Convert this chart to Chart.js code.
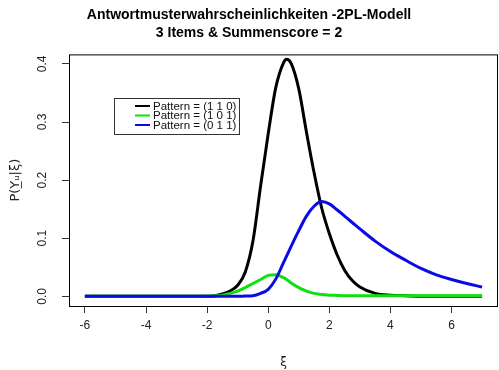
<!DOCTYPE html>
<html>
<head>
<meta charset="utf-8">
<script src="https://cdn.jsdelivr.net/npm/chart.js@4"></script>
<style>
  body { margin: 0; background: #fff; }
  #wrap { width: 499px; height: 370px; }
</style>
</head>
<body>
<div id="wrap"><canvas id="chart" width="499" height="370"></canvas></div>
<script>
// xi grid
const xi = [-6, -5, -4, -3, -2.5, -2, -1.75, -1.5, -1.25, -1, -0.75, -0.5, -0.25, 0, 0.25, 0.5, 0.6, 0.75,
    1, 1.25, 1.5, 1.75, 2, 2.25, 2.5, 2.75, 3, 3.5, 4, 4.5, 5, 5.5, 6, 6.5, 7];

// Pattern = (1 1 0)
const pattern110 = [0, 0, 0, 0, 0, 0, 0.001, 0.004, 0.009, 0.019, 0.042, 0.095, 0.19, 0.28, 0.36, 0.402, 0.408, 0.401,
    0.357, 0.283, 0.213, 0.152, 0.108, 0.072, 0.045, 0.027, 0.016, 0.005, 0.002, 0.001, 0, 0, 0, 0, 0];

// Pattern = (1 0 1)
const pattern101 = [0, 0, 0, 0, 0, 0.0005, 0.001, 0.002, 0.005, 0.009, 0.015, 0.022, 0.029, 0.036, 0.037, 0.032, 0.029, 0.023,
    0.015, 0.009, 0.005, 0.003, 0.002, 0.0015, 0.001, 0.001, 0.001, 0.001, 0.001, 0.001, 0.001, 0.001, 0.001, 0.001, 0.001];

// Pattern = (0 1 1)
const pattern011 = [0, 0, 0, 0, 0, 0, 0, 0, 0, 0, 0.0005, 0.001, 0.005, 0.012, 0.030, 0.058, 0.069, 0.086,
    0.113, 0.138, 0.155, 0.163, 0.159, 0.149, 0.138, 0.127, 0.116, 0.095, 0.077, 0.062, 0.048, 0.037, 0.029, 0.022, 0.016];

const seriesLabels = ['Pattern = (1 1 0)', 'Pattern = (1 0 1)', 'Pattern = (0 1 1)'];
const xTicks = [-6, -4, -2, 0, 2, 4, 6];
const yTicks = [0, 0.1, 0.2, 0.3, 0.4];

function toPoints(ys) {
    return xi.map((x, i) => ({ x: x, y: ys[i] }));
}

// box around the plot region + legend inside it
const rBoxPlugin = {
    id: 'rBox',
    afterDraw(chart) {
        const ctx = chart.ctx;
        const a = chart.chartArea;
        ctx.save();
        ctx.strokeStyle = '#000';
        ctx.lineWidth = 1;
        ctx.strokeRect(a.left + 0.5, a.top + 0.5, a.right - a.left - 1, a.bottom - a.top);

        // legend box
        const bx = 114, by = 98, bw = 125, bh = 36;
        ctx.fillStyle = '#fff';
        ctx.fillRect(bx, by, bw, bh);
        ctx.strokeStyle = '#333';
        ctx.strokeRect(bx + 0.5, by + 0.5, bw, bh);
        ctx.font = '11.5px "Liberation Sans", Arial, sans-serif';
        ctx.textBaseline = 'middle';
        chart.data.datasets.forEach((ds, i) => {
            const y = 106 + i * 9.5;
            ctx.strokeStyle = ds.borderColor;
            ctx.lineWidth = 2;
            ctx.beginPath();
            ctx.moveTo(135, y);
            ctx.lineTo(150, y);
            ctx.stroke();
            ctx.fillStyle = '#111';
            ctx.fillText(ds.label, 153, y + 0.5);
        });
        ctx.restore();
    }
};

const ctx = document.getElementById('chart').getContext('2d');
new Chart(ctx, {
    type: 'line',
    data: {
        datasets: [
            { label: seriesLabels[0], data: toPoints(pattern110), borderColor: '#000000', order: 2 },
            { label: seriesLabels[1], data: toPoints(pattern101), borderColor: '#10e010', order: 1 },
            { label: seriesLabels[2], data: toPoints(pattern011), borderColor: '#0a0ae6', order: 0 }
        ]
    },
    options: {
        responsive: false,
        animation: false,
        layout: { padding: { left: 0, right: 1, top: 0, bottom: 0 } },
        elements: {
            point: { radius: 0 },
            line: { borderWidth: 3, cubicInterpolationMode: 'monotone', fill: false }
        },
        plugins: {
            legend: { display: false },
            tooltip: { enabled: false },
            title: {
                display: true,
                text: ['Antwortmusterwahrscheinlichkeiten -2PL-Modell', '3 Items & Summenscore = 2'],
                color: '#000',
                font: { family: '"Liberation Sans", Arial, sans-serif', size: 14, weight: 'bold', lineHeight: 1.3 },
                padding: { top: 6, bottom: 12 }
            }
        },
        scales: {
            x: {
                type: 'linear',
                min: -6.52,
                max: 7.52,
                afterBuildTicks: (scale) => { scale.ticks = xTicks.map(v => ({ value: v })); },
                afterFit: (scale) => { scale.height = 64; },
                grid: { drawOnChartArea: false, drawTicks: true, tickLength: 7, color: '#333' },
                border: { display: false },
                ticks: {
                    color: '#222',
                    padding: 5,
                    maxRotation: 0,
                    font: { family: '"Liberation Sans", Arial, sans-serif', size: 12 }
                },
                title: {
                    display: true,
                    text: 'ξ',
                    color: '#222',
                    font: { family: '"DejaVu Sans", sans-serif', size: 12 },
                    padding: { top: 0, bottom: 0 }
                }
            },
            y: {
                min: -0.0167,
                max: 0.4164,
                afterBuildTicks: (scale) => { scale.ticks = yTicks.map(v => ({ value: v })); },
                afterFit: (scale) => { scale.width = 69; },
                grid: { drawOnChartArea: false, drawTicks: true, tickLength: 7, color: '#333' },
                border: { display: false },
                ticks: {
                    color: '#222',
                    padding: 11,
                    minRotation: 90,
                    maxRotation: 90,
                    crossAlign: 'center',
                    font: { family: '"Liberation Sans", Arial, sans-serif', size: 12 },
                    callback: (v) => v.toFixed(1)
                },
                title: {
                    display: true,
                    text: 'P(Y\u0332\u1d64|ξ)',
                    color: '#222',
                    font: { family: '"DejaVu Sans", sans-serif', size: 13 },
                    padding: { top: 8, bottom: 0 }
                }
            }
        }
    },
    plugins: [rBoxPlugin]
});
</script>
</body>
</html>
